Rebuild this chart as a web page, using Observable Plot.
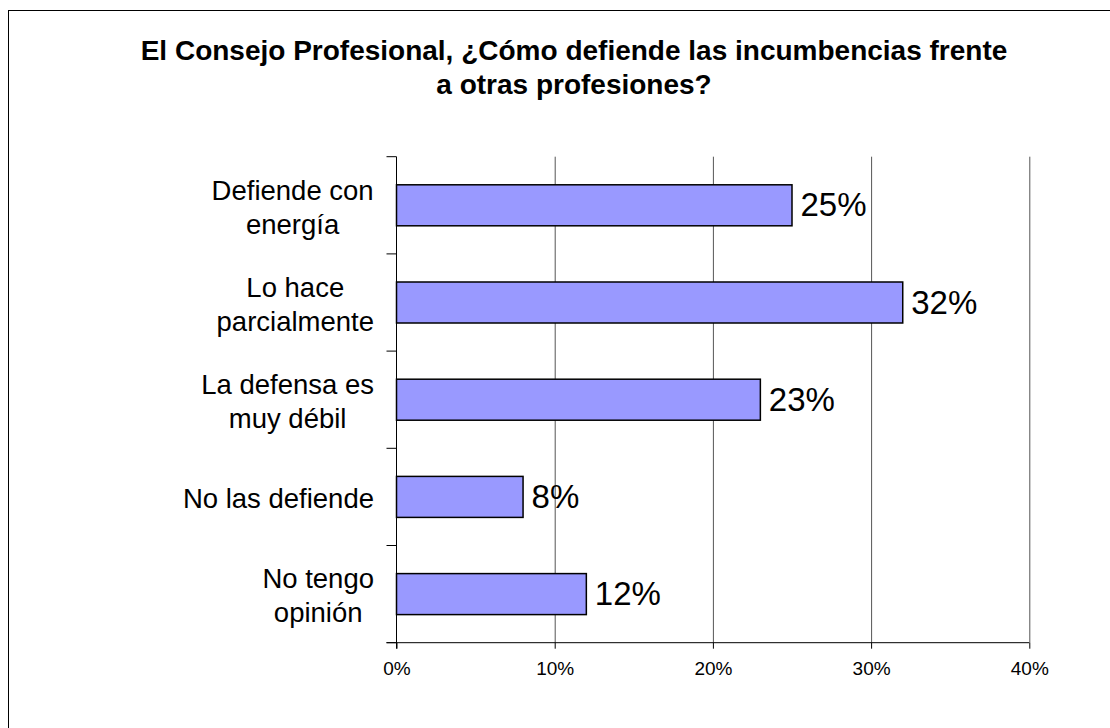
<!DOCTYPE html>
<html><head><meta charset="utf-8">
<script src="https://cdn.jsdelivr.net/npm/d3@7"></script>
<script src="https://cdn.jsdelivr.net/npm/@observablehq/plot@0.6"></script>
<style>
html,body{margin:0;padding:0;background:#fff;}
#wrap{position:relative;width:1110px;height:728px;overflow:hidden;font-family:Arial,"Liberation Sans",sans-serif;}
#frame{position:absolute;left:8px;top:10px;width:1200px;height:800px;border:1.5px solid #000;box-sizing:border-box;}
#title{position:absolute;left:0;width:1148px;top:34px;text-align:center;font-weight:bold;font-size:28px;line-height:34px;color:#000;}
#chart{position:absolute;left:0;top:0;}
</style></head>
<body><div id="wrap"><div id="frame"></div><div id="chart"></div><div id="title">El Consejo Profesional, ¿Cómo defiende las incumbencias frente<br>a otras profesiones?</div></div>
<script>
const categories = ["Defiende con\nenergía", "Lo hace\nparcialmente", "La defensa es\nmuy débil", "No las defiende", "No tengo\nopinión"];
const values = [25, 32, 23, 8, 12];
const valueLabels = ["25%", "32%", "23%", "8%", "12%"];
const xTicks = [0, 10, 20, 30, 40];

const data = categories.map((c, i) => ({category: c, value: values[i], label: valueLabels[i]}));

const W = 1110, H = 728, mL = 396.5, mR = 80.7, mT = 156.7, mB = 85.3;
const step = (H - mT - mB) / categories.length;
const inset = (step - 41) / 2;

function axisDecor(index, scales) {
  const x = scales.x, y = scales.y;
  const g = d3.create("svg:g").attr("stroke", "#000").attr("stroke-width", 1).attr("fill", "none");
  const x0 = x(0), x1 = x(xTicks[xTicks.length - 1]);
  const st = y.step();
  const bounds = categories.map(c => y(c));
  bounds.push(bounds[bounds.length - 1] + st);
  const yb = bounds[bounds.length - 1];
  g.append("line").attr("x1", x0).attr("x2", x0).attr("y1", bounds[0]).attr("y2", yb + 6);
  for (const b of bounds) g.append("line").attr("x1", x0 - 10).attr("x2", x0).attr("y1", b).attr("y2", b);
  g.append("line").attr("x1", x0 - 10).attr("x2", x1).attr("y1", yb).attr("y2", yb);
  return g.node();
}

const plot = Plot.plot({
  width: W, height: H,
  marginLeft: mL, marginRight: mR, marginTop: mT, marginBottom: mB,
  style: {fontFamily: "Arial, 'Liberation Sans', sans-serif", background: "transparent", color: "#000", overflow: "visible"},
  x: {domain: [0, 40], label: null},
  y: {domain: categories, padding: 0, round: false, label: null},
  marks: [
    Plot.gridX(xTicks.slice(1), {stroke: "#555", strokeOpacity: 1, strokeWidth: 1}),
    Plot.barX(data, {x: "value", y: "category", fill: "#9999FF", stroke: "#000", strokeWidth: 1.5, insetTop: inset, insetBottom: inset}),
    Plot.text(data, {x: "value", y: "category", text: "label", textAnchor: "start", dx: 8, fontSize: 33, fill: "#000"}),
    Plot.axisX(xTicks, {tickSize: 6, tickPadding: 12, fontSize: 19, tickFormat: d => d + "%", stroke: "#000", label: null}),
    Plot.axisY({tickSize: 0, tickPadding: 23, fontSize: 27.5, lineHeight: 34 / 27.5, label: null}),
    axisDecor
  ]
});
document.getElementById("chart").appendChild(plot);

// center each multi-line category label within its own block (right edge kept)
const flat = categories.map(c => c.replace(/\n/g, ""));
plot.querySelectorAll("text").forEach(t => {
  if (flat.includes(t.textContent.replace(/\n/g, ""))) {
    const bb = t.getBBox();
    t.setAttribute("text-anchor", "middle");
    t.querySelectorAll("tspan").forEach(s => s.setAttribute("text-anchor", "middle"));
    const tr = t.getAttribute("transform") || "";
    t.setAttribute("transform", tr + ` translate(${-bb.width / 2},0)`);
  }
});
</script>
</body></html>
